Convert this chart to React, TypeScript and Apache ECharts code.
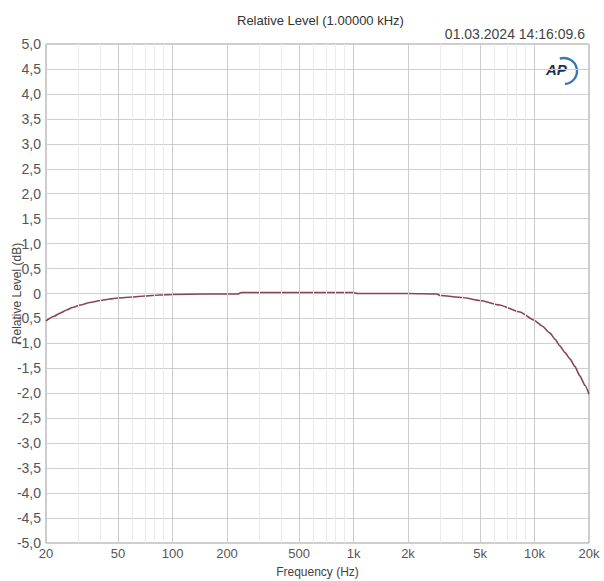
import * as echarts from "echarts";
import { useEffect, useRef } from "react";

// measured response (Hz, dB)
const freqs = [
  20, 22, 24, 26, 28, 31, 35, 40, 45, 50, 60, 70, 85, 100, 150, 230, 240, 500,
  1000, 1050, 2000, 2900, 3000, 4000, 5000, 6400, 8300, 10000, 11000, 12150,
  13000, 13800, 14700, 15700, 16700, 17800, 19000, 20000,
];
const levels = [
  -0.55, -0.46, -0.39, -0.33, -0.28, -0.23, -0.18, -0.14, -0.11, -0.09, -0.07,
  -0.05, -0.03, -0.02, -0.01, -0.01, 0.02, 0.02, 0.02, 0.0, 0.0, -0.01, -0.04,
  -0.08, -0.14, -0.23, -0.37, -0.54, -0.65, -0.79, -0.92, -1.05, -1.18, -1.31,
  -1.46, -1.65, -1.84, -2.02,
];

const xTickFreqs = [20, 50, 100, 200, 500, 1000, 2000, 5000, 10000, 20000];
const xTickLabels = ["20", "50", "100", "200", "500", "1k", "2k", "5k", "10k", "20k"];
const majorGrid = [50, 100, 200, 500, 1000, 2000, 5000, 10000];
const minorGrid = [
  30, 40, 60, 70, 80, 90, 300, 400, 600, 700, 800, 900, 3000, 4000, 6000, 7000,
  8000, 9000,
];

const FONT = "'Liberation Sans', Arial, sans-serif";
const lg = (f: number) => Math.log10(f);

export default function App() {
  const chartRef = useRef<HTMLDivElement | null>(null);

  useEffect(() => {
    const el = chartRef.current;
    if (!el) return;
    const chart = echarts.init(el, undefined, { renderer: "svg" });

    const gridLine = (f: number) => ({ xAxis: lg(f) });

    const option: echarts.EChartsOption = {
      animation: false,
      backgroundColor: "#fff",
      title: {
        text: "Relative Level (1.00000 kHz)",
        left: 232,
        top: 9,
        textStyle: { fontFamily: FONT, fontSize: 13, fontWeight: "normal", color: "#333" },
      },
      grid: {
        left: 46,
        right: 15,
        top: 44,
        bottom: 38,
        show: true,
        borderColor: "#9a9a9a",
        borderWidth: 1,
        outerBoundsMode: "none",
      } as any,
      xAxis: {
        type: "value",
        min: lg(20),
        max: lg(20000),
        name: "Frequency (Hz)",
        nameLocation: "middle",
        nameGap: 23,
        nameMoveOverlap: false,
        nameTextStyle: { fontFamily: FONT, fontSize: 12, color: "#444" },
        axisLine: { show: false },
        axisTick: { show: false },
        splitLine: { show: false },
        axisLabel: {
          customValues: xTickFreqs.map(lg),
          formatter: (v: number) => {
            const i = xTickFreqs.findIndex((f) => Math.abs(lg(f) - v) < 1e-6);
            return i >= 0 ? xTickLabels[i] : "";
          },
          fontFamily: FONT,
          fontSize: 13,
          color: "#555",
          margin: 4,
        },
      } as any,
      yAxis: {
        type: "value",
        min: -5,
        max: 5,
        interval: 0.5,
        name: "Relative Level (dB)",
        nameLocation: "middle",
        nameRotate: 90,
        nameGap: 23,
        nameMoveOverlap: false,
        nameTextStyle: { fontFamily: FONT, fontSize: 12, color: "#444" },
        axisLine: { show: false },
        axisTick: { show: false },
        splitLine: { show: true, lineStyle: { color: "#cfcfcf", width: 1 } },
        axisLabel: {
          formatter: (v: number) => (v === 0 ? "0" : v.toFixed(1).replace(".", ",")),
          fontFamily: FONT,
          fontSize: 14,
          color: "#555",
          margin: 5,
        },
      } as any,
      series: [
        {
          type: "line",
          silent: true,
          symbol: "none",
          data: [],
          markLine: {
            silent: true,
            symbol: "none",
            label: { show: false },
            lineStyle: { color: "#ebebeb", width: 1, type: "solid" },
            data: minorGrid.map(gridLine),
          },
        },
        {
          type: "line",
          silent: true,
          symbol: "none",
          data: [],
          markLine: {
            silent: true,
            symbol: "none",
            label: { show: false },
            lineStyle: { color: "#cbcbcb", width: 1, type: "solid" },
            data: majorGrid.map(gridLine),
          },
        },
        {
          type: "line",
          symbol: "none",
          smooth: 0.2,
          smoothMonotone: "x",
          lineStyle: { color: "#874556", width: 1.6 },
          data: freqs.map((f, i) => [lg(f), levels[i]]),
        },
      ],
      graphic: [
        {
          type: "text",
          right: 19,
          top: 27,
          style: { text: "01.03.2024 14:16:09.6", fontFamily: FONT, fontSize: 14, fill: "#444" },
        },
        {
          type: "text",
          left: 546,
          top: 62,
          style: { text: "AP", fontFamily: FONT, fontSize: 15, fontWeight: "bold", fontStyle: "italic", fill: "#1c3454" },
        },
        {
          type: "arc",
          shape: { cx: 564, cy: 71, r: 13, startAngle: -1.9, endAngle: 1.5, clockwise: true },
          style: { stroke: "#3a78b5", lineWidth: 2.4, fill: "none" },
        },
      ],
    };

    chart.setOption(option);
    return () => {
      if (!chart.isDisposed()) chart.dispose();
    };
  }, []);

  return (
    <div
      ref={chartRef}
      style={{ position: "fixed", left: 0, top: 0, width: 604, height: 581 }}
    />
  );
}
